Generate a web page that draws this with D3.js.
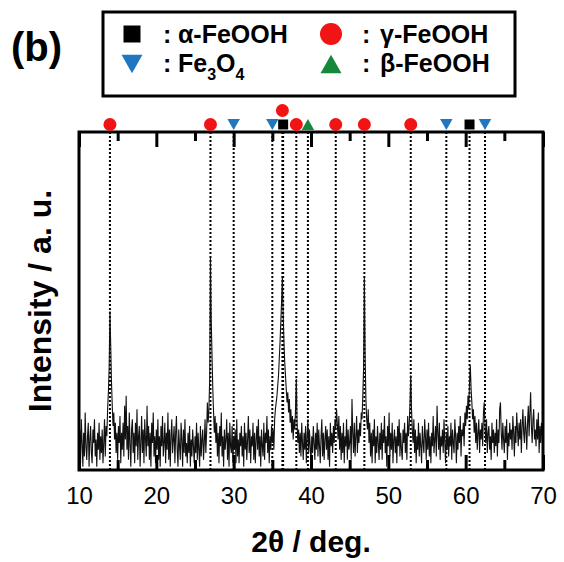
<!DOCTYPE html>
<html><head><meta charset="utf-8">
<script src="https://cdn.jsdelivr.net/npm/d3@7"></script>
<style>body{margin:0;background:#fff}</style>
</head><body>
<svg id="c" width="564" height="562"></svg>
<script>
// ---------- data ----------
const angleStart = 10;     // 2θ of first sample (deg)
const angleStep = 0.1;     // sampling step (deg)
// intensity (a.u., 0..100 of the frame height), one row per degree
const intensity = [
 6,12,2,15,8,1,11,4,17,7,
 3,10,14,1,9,13,5,2,12,8,
 15,4,9,1,11,6,14,3,10,5,
 12,2,8,15,4,13,10,18,23,30,
 47,37,26,19,13,17,9,14,5,11,
 3,13,8,16,2,11,6,14,4,19,
 9,22,6,13,3,17,8,1,12,15,
 5,11,2,14,7,18,3,10,13,1,
 8,16,5,12,2,15,9,4,19,7,
 13,3,11,1,14,8,17,4,10,2,
 12,6,15,3,10,1,13,7,16,4,
 8,14,2,11,6,17,3,12,1,10,
 15,5,9,13,2,11,16,6,1,12,
 7,3,14,9,1,12,5,15,4,8,
 2,11,5,13,1,9,4,12,7,2,
 10,5,14,3,11,6,1,13,4,9,
 12,3,8,15,5,11,20,14,18,27,
 63,44,34,24,17,11,16,8,14,4,
 11,2,13,7,17,4,10,1,12,6,
 9,15,3,11,1,14,7,5,13,2,
 10,6,12,2,15,4,9,2,11,7,
 13,4,10,1,14,6,11,3,9,16,
 5,12,2,10,7,14,3,11,2,9,
 13,6,15,4,10,1,12,7,4,14,
 3,11,8,16,5,12,2,10,6,13,
 8,12,6,15,18,20,22,25,28,33,
 38,44,50,57,46,38,32,28,24,20,
 23,17,21,14,18,11,16,9,15,12,
 18,27,14,8,12,5,11,4,14,8,
 3,11,6,13,2,10,15,5,12,7,
 2,10,5,13,8,3,11,6,14,4,
 12,7,2,10,15,4,11,3,9,13,
 6,12,3,10,1,14,7,11,5,13,
 8,15,12,18,14,9,16,6,13,3,
 11,5,14,2,10,7,15,3,12,6,
 8,13,3,21,11,5,14,4,10,16,
 5,12,8,14,10,17,15,22,30,57,
 34,21,15,12,18,8,14,4,11,2,
 12,7,15,2,10,5,13,8,3,11,
 6,14,3,12,8,16,5,10,1,13,
 7,17,4,11,6,14,2,9,12,5,
 10,2,13,7,15,4,11,6,3,12,
 8,14,5,11,3,16,10,13,20,28,
 18,12,8,15,5,12,2,10,6,14,
 4,11,7,2,13,8,5,15,10,3,
 12,6,14,4,10,2,11,7,16,5,
 9,13,4,19,11,6,14,3,10,7,
 12,5,15,8,2,11,6,13,4,10,
 7,14,3,12,8,5,15,10,2,11,
 6,13,8,16,4,12,10,14,7,17,
 13,19,15,22,18,26,31,24,20,15,
 18,11,16,8,14,6,11,15,5,12,
 9,14,7,17,20,13,8,15,5,11,
 13,6,10,3,14,8,12,5,11,7,
 15,4,12,8,18,20,11,6,14,9,
 5,13,8,15,3,11,7,14,9,12,
 6,16,11,4,13,8,17,12,7,14,
 9,15,5,13,18,11,8,16,12,6,
 14,19,10,17,23,13,8,15,18,9,
 12,7,15,9,17,5,13,8,14,10,
 4
];
const xTicks = [10, 20, 30, 40, 50, 60, 70];
const xMinorTicks = [15, 25, 35, 45, 55, 65];
const phaseNames = ["α-FeOOH", "γ-FeOOH", "Fe3O4", "β-FeOOH"];
const alphaPeaks = [36.4, 60.5];
const fe3o4Peaks = [30.0, 35.0, 57.5, 62.5];
const betaPeaks = [39.6];
const gammaPeaks = [14.0, 27.0, 36.3, 38.1, 43.2, 46.9, 52.9];
const panelLabel = "(b)";
const xTitle = "2θ / deg.";
const yTitle = "Intensity / a. u.";

// ---------- layout ----------
const FONT = "'Liberation Sans', Arial, Helvetica, sans-serif";
const plot = {left: 79, right: 543, top: 132, bottom: 470};
const svg = d3.select("#c");
const x = d3.scaleLinear().domain([10, 70]).range([plot.left, plot.right]);
const y = d3.scaleLinear().domain([0, 100]).range([plot.bottom, plot.top]);

const colors = {"α-FeOOH": "#000000", "γ-FeOOH": "#f01414", "Fe3O4": "#1f77c0", "β-FeOOH": "#16883a"};
const shapes = {"α-FeOOH": "square", "γ-FeOOH": "circle", "Fe3O4": "down", "β-FeOOH": "up"};

function shapePath(kind, cx, cy, s) {
  if (kind === "circle") {
    const r = s / 2;
    return `M${cx - r},${cy}a${r},${r} 0 1,0 ${2 * r},0a${r},${r} 0 1,0 ${-2 * r},0Z`;
  }
  if (kind === "square") {
    const h = s / 2;
    return `M${cx - h},${cy - h}h${s}v${s}h${-s}Z`;
  }
  const h = s * 0.88, w = s / 2;
  if (kind === "down") return `M${cx - w},${cy - h / 2}L${cx + w},${cy - h / 2}L${cx},${cy + h / 2}Z`;
  return `M${cx - w},${cy + h / 2}L${cx + w},${cy + h / 2}L${cx},${cy - h / 2}Z`;
}

// ---------- reference dotted lines (under the pattern) ----------
const allPeaks = Array.from(new Set([...alphaPeaks, ...fe3o4Peaks, ...betaPeaks, ...gammaPeaks]));
const gRef = svg.append("g");
allPeaks.forEach(p => {
  gRef.append("line").attr("x1", x(p)).attr("x2", x(p)).attr("y1", y(100)).attr("y2", y(0))
    .attr("stroke", "#000").attr("stroke-width", 2).attr("stroke-dasharray", "2,2");
});

// ---------- data line ----------
const series = intensity.map((v, i) => ({t: angleStart + i * angleStep, v}));
svg.append("clipPath").attr("id", "clip").append("rect")
  .attr("x", plot.left).attr("y", plot.top)
  .attr("width", plot.right - plot.left).attr("height", plot.bottom - plot.top);

svg.append("path").datum(series)
  .attr("clip-path", "url(#clip)")
  .attr("fill", "none").attr("stroke", "#111").attr("stroke-width", 1.1)
  .attr("stroke-linejoin", "miter")
  .attr("d", d3.line().x(d => x(d.t)).y(d => y(d.v)));

// ---------- axes / ticks ----------
function styleAxis(g) {
  g.select(".domain").remove();
  g.selectAll("line").attr("stroke", "#000").attr("stroke-width", 3);
  g.selectAll("text").attr("font-size", 24).attr("font-family", FONT).attr("fill", "#000");
}
svg.append("g").attr("transform", `translate(0,${plot.bottom})`)
  .call(d3.axisBottom(x).tickValues(xTicks).tickSize(-15).tickPadding(17).tickFormat(d3.format("d")))
  .call(styleAxis);
svg.append("g").attr("transform", `translate(0,${plot.bottom})`)
  .call(d3.axisBottom(x).tickValues(xMinorTicks).tickSize(-10).tickFormat(""))
  .call(styleAxis);
svg.append("g").attr("transform", `translate(0,${plot.top})`)
  .call(d3.axisTop(x).tickValues(xTicks).tickSize(-15).tickFormat(""))
  .call(styleAxis);
svg.append("g").attr("transform", `translate(0,${plot.top})`)
  .call(d3.axisTop(x).tickValues(xMinorTicks).tickSize(-9).tickFormat(""))
  .call(styleAxis);

svg.append("rect").attr("x", plot.left).attr("y", plot.top)
  .attr("width", plot.right - plot.left).attr("height", plot.bottom - plot.top)
  .attr("fill", "none").attr("stroke", "#000").attr("stroke-width", 3);

// ---------- peak markers above frame ----------
const markerOrder = [
  ["α-FeOOH", alphaPeaks], ["Fe3O4", fe3o4Peaks], ["β-FeOOH", betaPeaks], ["γ-FeOOH", gammaPeaks]
];
const placed = [];
const rowY = plot.top - 7.5, rowStep = 14;
markerOrder.forEach(([name, peaks]) => {
  peaks.forEach(p => {
    const px = x(p);
    let level = 0;
    while (placed.some(m => m.level === level && Math.abs(m.x - px) < 8)) level++;
    placed.push({x: px, level});
    const kind = shapes[name];
    const size = kind === "circle" ? 13 : kind === "square" ? 10 : 12.5;
    svg.append("path").attr("d", shapePath(kind, px, rowY - level * rowStep, size))
      .attr("fill", colors[name]);
  });
});

// ---------- legend ----------
const lg = svg.append("g");
lg.append("rect").attr("x", 103).attr("y", 12).attr("width", 412).attr("height", 84)
  .attr("fill", "#fff").attr("stroke", "#000").attr("stroke-width", 3);
const legendItems = [
  {name: phaseNames[0], col: 0, row: 0},
  {name: phaseNames[1], col: 1, row: 0},
  {name: phaseNames[2], col: 0, row: 1},
  {name: phaseNames[3], col: 1, row: 1}
];
const colX = [132, 331], rowYs = [34, 64], baseY = [43, 72];
const colonX = [163, 362], labelX = [178, 380];
legendItems.forEach(it => {
  const kind = shapes[it.name];
  const size = kind === "circle" ? 22 : kind === "square" ? 17 : 21;
  lg.append("path").attr("d", shapePath(kind, colX[it.col], rowYs[it.row], size)).attr("fill", colors[it.name]);
  lg.append("text").attr("x", colonX[it.col]).attr("y", baseY[it.row])
    .attr("font-family", FONT).attr("font-weight", "bold").attr("font-size", 25).text(":");
  const t = lg.append("text").attr("x", labelX[it.col]).attr("y", baseY[it.row])
    .attr("font-family", FONT).attr("font-weight", "bold").attr("font-size", 25);
  if (it.name === "Fe3O4") {
    t.append("tspan").text("Fe");
    t.append("tspan").attr("font-size", 16).attr("dy", 8).text("3");
    t.append("tspan").attr("dy", -8).text("O");
    t.append("tspan").attr("font-size", 16).attr("dy", 8).text("4");
  } else {
    t.text(it.name);
  }
});

// ---------- titles ----------
svg.append("text").attr("x", 11).attr("y", 61)
  .attr("font-family", FONT).attr("font-weight", "bold").attr("font-size", 40).text(panelLabel);
svg.append("text").attr("x", (plot.left + plot.right) / 2).attr("y", 552)
  .attr("text-anchor", "middle").attr("font-family", FONT).attr("font-weight", "bold")
  .attr("font-size", 30).text(xTitle);
svg.append("text").attr("transform", `translate(51,${(plot.top + plot.bottom) / 2}) rotate(-90)`)
  .attr("text-anchor", "middle").attr("font-family", FONT).attr("font-weight", "bold")
  .attr("font-size", 32).text(yTitle);
</script>
</body></html>
